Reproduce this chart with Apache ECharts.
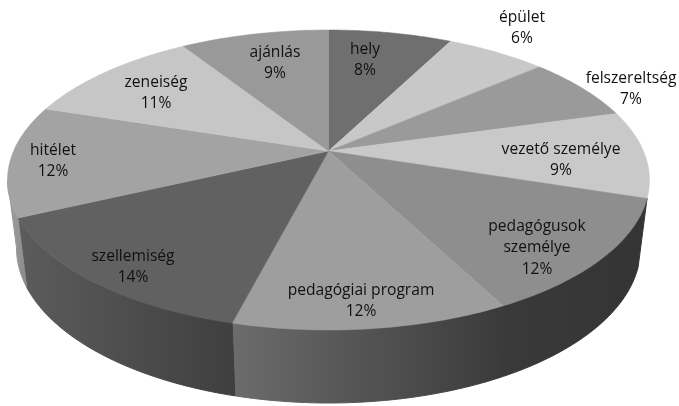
<!DOCTYPE html>
<html><head><meta charset="utf-8">
<style>html,body{margin:0;padding:0;background:#fff}#c{width:679px;height:406px}</style>
<script src="https://cdn.jsdelivr.net/npm/echarts@6/dist/echarts.min.js"></script>
</head><body><div id="c"></div>
<script>
// --- data
const categories = ['hely','épület','felszereltség','vezető személye','pedagógusok\nszemélye','pedagógiai program','szellemiség','hitélet','zeneiség','ajánlás'];
const shares = [7.5,6.1,7.0,9.4,12.4,11.6,14.0,12.0,11.0,9.0];
// --- styles
const topColors = ['#6f6f6f','#c8c8c8','#9a9a9a','#c9c9c9','#8e8e8e','#9e9e9e','#616161','#a3a3a3','#c6c6c6','#999999'];
const wallLeft  = ['#444','#444','#444','#444','#3a3a3a','#6c6c6c','#5c5c5c','#a0a0a0','#888','#888'];
const wallRight = ['#444','#444','#444','#444','#343434','#3a3a3a','#3f3f3f','#8a8a8a','#888','#888'];
const labelAt = [[365,60],[522,28],[631,89],[561,160],[537,248],[361,301],[133,267],[53,161],[156,93],[275,63]];
// --- geometry of the tilted disc (projective map of a circle)
const persp = 0.193;
const topRim = {cx:328.5, cy:180, rx:321, ry:150};
const baseRim = {cx:328.5, cy:248, rx:312, ry:155};
const frontFrom = 108, frontTo = 259;
function project(rim, deg, r){
  const t = deg*Math.PI/180, u = r*Math.sin(t), v = r*Math.cos(t), d = 1+persp*v;
  const X = u*Math.sqrt(1-persp*persp)/d, Y = (v+persp)/d;
  return [rim.cx+rim.rx*X, rim.cy-rim.ry*Y];
}
function arc(rim,a,b){ const p=[]; const n=Math.max(2,Math.ceil(b-a)); for(let i=0;i<=n;i++) p.push(project(rim,a+(b-a)*i/n,1)); return p; }
const total = shares.reduce((s,v)=>s+v,0);
const starts = []; shares.reduce((s,v,i)=>{starts[i]=s; return s+v;},0);
const deg = v => v/total*360;
const rows = categories.map((n,i)=>[n,shares[i],starts[i]]);

function renderWall(p,api){
  const i=p.dataIndex;
  const a=Math.max(deg(starts[i]),frontFrom), b=Math.min(deg(starts[i]+shares[i]),frontTo);
  if(b<=a) return {type:'group',children:[]};
  const pts=arc(topRim,a,b).concat(arc(baseRim,a,b).reverse());
  const fill=new echarts.graphic.LinearGradient(0,0,1,0,[{offset:0,color:wallLeft[i]},{offset:1,color:wallRight[i]}]);
  return {type:'polygon',shape:{points:pts},style:{fill:fill,stroke:fill,lineWidth:1,lineJoin:'round'}};
}
function renderTop(p,api){
  const i=p.dataIndex, a=deg(starts[i]), b=deg(starts[i]+shares[i]);
  const pts=[project(topRim,0,0)].concat(arc(topRim,a,b));
  return {type:'polygon',shape:{points:pts},style:{fill:topColors[i],stroke:topColors[i],lineWidth:0.5}};
}
function renderLabel(p,api){
  const i=p.dataIndex;
  return {type:'text',x:labelAt[i][0],y:labelAt[i][1],
    style:{text:categories[i]+'\n'+Math.round(shares[i])+'%',align:'center',verticalAlign:'middle',
      font:'15.6px "Open Sans"',lineHeight:21.5,fill:'#111111'}};
}
const chart=echarts.init(document.getElementById('c'),null,{renderer:'canvas'});
chart.setOption({
  animation:false,backgroundColor:'#fff',
  series:[
    {type:'custom',coordinateSystem:'none',z:1,renderItem:renderWall,data:rows,silent:true},
    {type:'custom',coordinateSystem:'none',z:2,renderItem:renderTop,data:rows,silent:true},
    {type:'custom',coordinateSystem:'none',z:3,renderItem:renderLabel,data:rows,silent:true}
  ]
});
</script></body></html>
